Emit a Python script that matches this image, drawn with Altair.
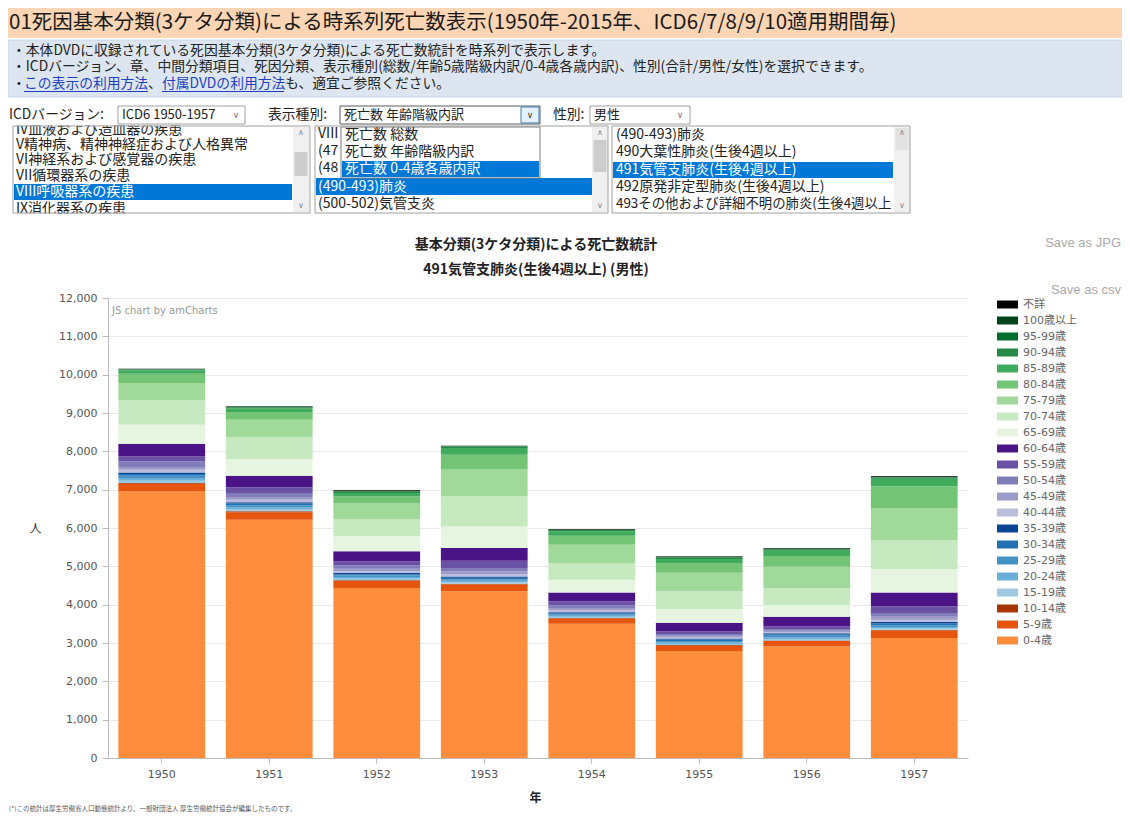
import altair as alt
import pandas as pd

# ---------------- data ----------------
years = ["1950", "1951", "1952", "1953", "1954", "1955", "1956", "1957"]
ages = ["0-4歳", "5-9歳", "10-14歳", "15-19歳", "20-24歳", "25-29歳", "30-34歳", "35-39歳",
        "40-44歳", "45-49歳", "50-54歳", "55-59歳", "60-64歳", "65-69歳", "70-74歳", "75-79歳",
        "80-84歳", "85-89歳", "90-94歳", "95-99歳", "100歳以上", "不詳"]
colors = ["#fd8d3c", "#e6550d", "#a63603", "#9ecae1", "#6baed6", "#4292c6", "#2171b5", "#084594",
          "#bcbddc", "#9e9ac8", "#807dba", "#6a51a3", "#4a1486", "#e5f5e0", "#c7e9c0", "#a1d99b",
          "#74c476", "#41ab5d", "#238b45", "#006d2c", "#00441b", "#000000"]

# deaths per age group (same order as ages), one list per year
v1950 = [6955, 200, 20, 60, 70, 55, 50, 40, 70, 70, 146, 131, 331, 496, 634, 453, 240, 85, 30, 8, 1, 10]
v1951 = [6217, 195, 22, 50, 60, 50, 45, 30, 65, 74, 105, 148, 304, 435, 574, 452, 200, 95, 30, 10, 2, 10]
v1952 = [4435, 180, 19, 40, 45, 40, 37, 30, 50, 60, 85, 110, 261, 391, 453, 417, 170, 91, 35, 15, 4, 15]
v1953 = [4347, 180, 20, 36, 40, 40, 40, 35, 59, 70, 90, 190, 332, 563, 783, 715, 373, 175, 35, 12, 3, 10]
v1954 = [3504, 133, 15, 30, 30, 32, 30, 25, 54, 60, 73, 100, 234, 332, 435, 478, 235, 112, 35, 12, 3, 12]
v1955 = [2790, 140, 15, 30, 35, 40, 40, 30, 30, 40, 45, 65, 230, 360, 460, 480, 255, 105, 40, 15, 3, 12]
v1956 = [2910, 142, 15, 35, 40, 45, 40, 30, 25, 35, 45, 70, 250, 310, 435, 565, 280, 135, 40, 15, 3, 12]
v1957 = [3130, 195, 22, 31, 40, 45, 45, 40, 60, 74, 100, 174, 364, 610, 747, 845, 564, 201, 30, 13, 3, 14]
series_by_year = [v1950, v1951, v1952, v1953, v1954, v1955, v1956, v1957]

y_ticks = list(range(0, 12001, 1000))

rows = []
for yr, vals in zip(years, series_by_year):
    for i, (age, v) in enumerate(zip(ages, vals)):
        rows.append({"年": yr, "年齢": age, "死亡数": v, "順": i})
df = pd.DataFrame(rows)

# ---------------- layout ----------------
W, H = 860, 460
PAD = {"left": 100, "top": 290, "right": 154, "bottom": 55}
OX, OY = 8 + PAD["left"], 8 + PAD["top"]
CJK = "Noto Sans CJK JP"
LAT = "DejaVu Sans, Noto Sans CJK JP"
one = alt.Data(values=[{"k": 0}])


def txt(px, py, s, size=13.8, color="#222222", weight="normal", align="left", font=CJK):
    return alt.Chart(one).mark_text(text=s, fontSize=size, color=color, fontWeight=weight,
                                    align=align, baseline="middle", font=font).encode(
        x=alt.value(px - OX), y=alt.value(py - OY))


def box(x1, y1, x2, y2, fill="white", stroke=None, sw=1):
    kw = {"fill": fill}
    if stroke:
        kw.update(stroke=stroke, strokeWidth=sw)
    else:
        kw.update(strokeWidth=0)
    return alt.Chart(one).mark_rect(**kw).encode(
        x=alt.value(x1 - OX), x2=alt.value(x2 - OX), y=alt.value(y1 - OY), y2=alt.value(y2 - OY))


SEL = "#0078d7"
layers = []

# bars
bars = alt.Chart(df).mark_bar(strokeWidth=0).encode(
    x=alt.X("年:N", sort=years,
            scale=alt.Scale(paddingInner=0.193, paddingOuter=0.0965),
            axis=alt.Axis(title="年", titleFont=CJK, titleFontSize=12, titleFontWeight="bold",
                          titleColor="#222", titleX=427, titleY=39, titleAlign="center",
                          titleBaseline="middle", labelAngle=0, labelFont=LAT, labelFontSize=11,
                          labelColor="#555", labelPadding=5, tickColor="#bbb", tickSize=5,
                          domainColor="#bbb", grid=False)),
    y=alt.Y("死亡数:Q", stack="zero",
            scale=alt.Scale(domain=[0, 12000], nice=False),
            axis=alt.Axis(values=y_ticks, format=",d", title="人", titleAngle=0, titleX=-73,
                          titleY=230, titleAlign="center", titleBaseline="middle",
                          titleFont=CJK, titleFontSize=12, titleFontWeight="normal",
                          titleColor="#333", labelFont=LAT, labelFontSize=11, labelColor="#555",
                          labelPadding=5, tickColor="#bbb", tickSize=6, domainColor="#bbb",
                          gridColor="#e9e9e9")),
    color=alt.Color("年齢:N", scale=alt.Scale(domain=ages[::-1], range=colors[::-1]),
                    legend=alt.Legend(orient="none", legendX=889, legendY=-4, title=None,
                                      symbolType="M-1,-0.38H1V0.38H-1Z", symbolSize=441,
                                      symbolStrokeWidth=0, symbolOpacity=1, labelFont=LAT,
                                      labelFontSize=11, labelColor="#666", labelOffset=5,
                                      rowPadding=0, padding=0)),
    order=alt.Order("順:Q", sort="ascending"),
)
layers.append(bars)

# header banner
layers += [
    box(8, 3.5, 1122, 6.5, fill="#3c3c3c"),
    box(8, 6.5, 1122, 38, fill="#fcd5b4"),
    txt(9, 22.5, "01死因基本分類(3ケタ分類)による時系列死亡数表示(1950年-2015年、ICD6/7/8/9/10適用期間毎)",
        size=20.5, color="#1a1a1a"),
    box(8, 40, 1122, 97, fill="#dde6f0", stroke="#c9d6e4"),
    txt(12, 50.5, "・本体DVDに収録されている死因基本分類(3ケタ分類)による死亡数統計を時系列で表示します。"),
    txt(12, 67, "・ICDバージョン、章、中間分類項目、死因分類、表示種別(総数/年齢5歳階級内訳/0-4歳各歳内訳)、性別(合計/男性/女性)を選択できます。"),
    txt(12, 84, "・"),
    txt(24, 84, "この表示の利用方法", color="#1f3fbf"),
    txt(148, 84, "、"),
    txt(162, 84, "付属DVDの利用方法", color="#1f3fbf"),
    txt(285, 84, "も、適宜ご参照ください。"),
    box(24, 91, 148, 92, fill="#1f3fbf"),
    box(162, 91, 284, 92, fill="#1f3fbf"),
]

# list boxes (contents)
layers += [
    box(13, 126, 310, 213, fill="white"),
    txt(16, 129.5, "IV血液および造血器の疾患", size=14),
    txt(16, 144.5, "V精神病、精神神経症および人格異常", size=14),
    txt(16, 160, "VI神経系および感覚器の疾患", size=14),
    txt(16, 176, "VII循環器系の疾患", size=14),
    box(14, 184, 292, 200, fill=SEL),
    txt(16, 192, "VIII呼吸器系の疾患", size=14, color="white"),
    txt(16, 208.5, "IX消化器系の疾患", size=14),
    box(315, 126, 608, 213, fill="white"),
    txt(318, 134, "VIII", size=14),
    txt(318, 151, "(47", size=14),
    txt(318, 168, "(48", size=14),
    box(316, 178, 592, 195, fill=SEL),
    txt(318, 186.5, "(490-493)肺炎", size=14, color="white"),
    txt(318, 204, "(500-502)気管支炎", size=14),
    box(612, 126, 910, 213, fill="white"),
    txt(616, 135, "(490-493)肺炎", size=14),
    txt(616, 152, "490大葉性肺炎(生後4週以上)", size=14),
    box(613, 162, 893, 178, fill=SEL),
    txt(616, 170, "491気管支肺炎(生後4週以上)", size=14, color="white"),
    txt(616, 187, "492原発非定型肺炎(生後4週以上)", size=14),
    txt(616, 204, "493その他および詳細不明の肺炎(生後4週以上", size=13.4),
]
# scrollbars
for sx, t1, t2 in [(293, 152, 176), (592, 140, 172), (894, 128, 150)]:
    layers += [
        box(sx, 127, sx + 16, 212, fill="#f0f0f0"),
        box(sx + 1.5, t1, sx + 14.5, t2, fill="#cdcdcd" if sx != 894 else "#e2e2e2"),
        txt(sx + 8, 133, "∧", size=8, color="#888", align="center", font=LAT),
        txt(sx + 8, 206, "∨", size=8, color="#888", align="center", font=LAT),
    ]
# open dropdown overlay
layers += [
    box(341, 127, 540, 178, fill="white", stroke="#7a7a7a"),
    txt(345, 135, "死亡数 総数", size=14),
    txt(345, 152, "死亡数 年齢階級内訳", size=14),
    box(342, 161, 539, 177, fill=SEL),
    txt(345, 169, "死亡数 0-4歳各歳内訳", size=14, color="white"),
]
# cover strips and borders
layers += [
    box(10, 117.5, 912, 125.5, fill="white"),
    box(10, 213.5, 912, 224, fill="white"),
    box(13, 126, 310, 213, fill="transparent", stroke="#a0a0a0"),
    box(315, 126, 608, 213, fill="transparent", stroke="#a0a0a0"),
    box(612, 126, 910, 213, fill="transparent", stroke="#a0a0a0"),
]
# selector row
layers += [
    txt(9, 114.5, "ICDバージョン:"),
    box(118, 106, 245, 124, fill="white", stroke="#a0a0a0"),
    txt(122, 115, "ICD6 1950-1957", size=13),
    txt(236, 115, "∨", size=9, color="#777", align="center", font=LAT),
    txt(268, 114.5, "表示種別:"),
    box(340, 106, 540, 124, fill="white", stroke="#5a5a5a"),
    txt(344, 115, "死亡数 年齢階級内訳", size=13),
    box(521, 107, 539, 123, fill="#e5f1fb", stroke="#3c7fb1"),
    txt(530, 115, "∨", size=9, color="#333", align="center", font=LAT),
    txt(553, 114.5, "性別:"),
    box(590, 106, 690, 124, fill="white", stroke="#a0a0a0"),
    txt(594, 115, "男性", size=13),
    txt(680, 115, "∨", size=9, color="#777", align="center", font=LAT),
]
# chart texts
layers += [
    txt(536, 245, "基本分類(3ケタ分類)による死亡数統計", size=14, weight="bold", align="center"),
    txt(536, 270, "491気管支肺炎(生後4週以上) (男性)", size=14, weight="bold", align="center"),
    txt(1121, 243, "Save as JPG", size=13, color="#aaaaaa", align="right", font="Liberation Sans"),
    txt(1121, 290, "Save as csv", size=13, color="#aaaaaa", align="right", font="Liberation Sans"),
    txt(112, 311, "JS chart by amCharts", size=10, color="#999999", font=LAT),
    txt(9, 809, "(*)この統計は厚生労働省人口動態統計より、一般財団法人 厚生労働統計協会が編集したものです。",
        size=6.5, color="#555"),
]

chart = alt.layer(*layers).properties(
    width=W, height=H, padding=PAD,
    autosize=alt.AutoSizeParams(type="none"),
    background="white",
).configure_view(strokeWidth=0)

chart.save("out.html", embed_options={"renderer": "svg", "actions": False})
